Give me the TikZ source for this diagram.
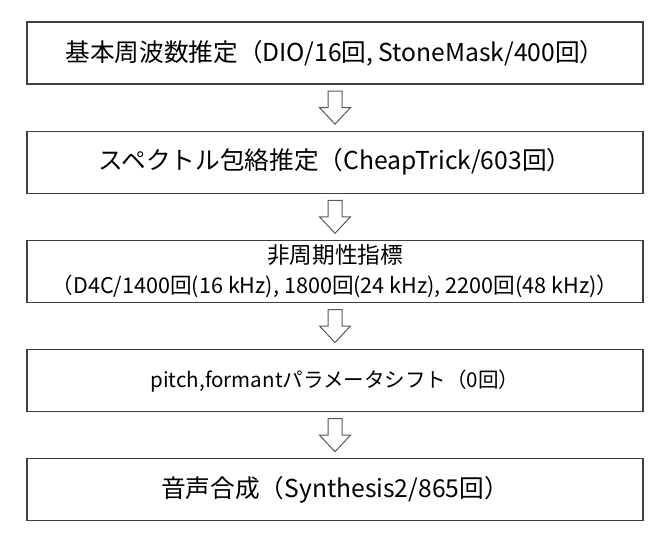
\documentclass[tikz,border=0pt]{standalone}
\usepackage{fontspec}
\setmainfont{Noto Sans CJK JP}
\usetikzlibrary{positioning,calc}

\begin{document}
\begin{tikzpicture}[x=0.75pt,y=0.75pt,
  etapa/.style={draw=black!75,line width=0.9pt,minimum width=462pt,minimum height=46.5pt,inner sep=0pt,align=center}, %cajas de cada etapa
  grande/.style={font=\fontsize{18.5pt}{22pt}\selectfont},
  medio/.style={font=\fontsize{15.4pt}{22pt}\selectfont},
  chico/.style={font=\fontsize{16.2pt}{22.5pt}\selectfont},
  flecha/.style={draw=black!65,line width=0.75pt,fill=white,line join=miter}] %flecha hueca entre cajas
  \useasboundingbox (0,0) rectangle (670,-539);

  %Las etapas, una debajo de la otra
  \node[etapa,grande] (f0) at (335,-53) {基本周波数推定（DIO/16回, StoneMask/400回）};
  \node[etapa,grande,below=34.5pt of f0] (sp) {スペクトル包絡推定（CheapTrick/603回）};
  \node[etapa,chico,below=34.5pt of sp] (ap) {{\fontsize{17pt}{22.5pt}\selectfont 非周期性指標}\\（D4C/1400回(16 kHz), 1800回(24 kHz), 2200回(48 kHz)）};
  \node[etapa,medio,below=34.5pt of ap] (ps) {pitch,formantパラメータシフト（0回）};
  \node[etapa,grande,below=34.5pt of ps] (sy) {音声合成（Synthesis2/865回）};

  %Flechas en el medio de cada par
  \foreach \a/\b in {f0/sp,sp/ap,ap/ps,ps/sy}
    \draw[flecha] ($(\a.south)!0.5!(\b.north)$) ++(-7,16.5) -- ++(14,0) -- ++(0,-16.5) -- ++(8.5,0) -- ++(-15.5,-16.5) -- ++(-15.5,16.5) -- ++(8.5,0) -- cycle;
\end{tikzpicture}
\end{document}
